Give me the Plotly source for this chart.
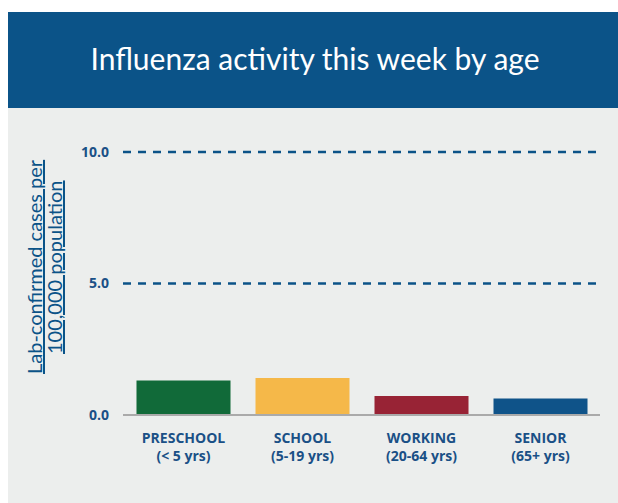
import plotly.graph_objects as go

categories = ["PRESCHOOL<br>(< 5 yrs)", "SCHOOL<br>(5-19 yrs)", "WORKING<br>(20-64 yrs)", "SENIOR<br>(65+ yrs)"]
values = [1.31, 1.40, 0.72, 0.62]
bar_colors = ["#116a39", "#f5b849", "#982335", "#0f5389"]
y_tickvals = [0, 5, 10]
y_ticktext = ["0.0", "5.0", "10.0"]

W, H = 618, 503
L, R, T, B = 124, W - 600, 147, H - 417
pw, ph = W - L - R, H - T - B

def px(x):
    return (x - L) / pw

def py(y):
    return (H - B - y) / ph

DARK = "#0b5388"
GREY = "#eceeed"

fig = go.Figure()
fig.add_trace(go.Bar(
    x=categories, y=values, marker=dict(color=bar_colors, line=dict(width=0)),
    hoverinfo="skip",
))

shapes = [
    dict(type="rect", xref="paper", yref="paper", x0=px(8), x1=px(640), y0=py(108), y1=py(530),
         fillcolor=GREY, line=dict(width=0), layer="below"),
    dict(type="rect", xref="paper", yref="paper", x0=px(8), x1=px(640), y0=py(108), y1=py(12),
         fillcolor=DARK, line=dict(width=0), layer="below"),
]
for v in [5, 10]:
    shapes.append(dict(type="line", xref="paper", yref="y", x0=px(123), x1=px(597), y0=v, y1=v,
                       line=dict(color=DARK, width=2.6, dash="8px,7px"), layer="below"))
shapes.append(dict(type="line", xref="paper", yref="y", x0=px(123), x1=px(600), y0=0, y1=0,
                   line=dict(color="#aaaaaa", width=2), layer="above"))

fig.update_layout(
    width=W, height=H,
    margin=dict(l=L, r=R, t=T, b=B, pad=0),
    paper_bgcolor="white", plot_bgcolor="rgba(0,0,0,0)",
    showlegend=False, bargap=0.21,
    shapes=shapes,
    title=dict(text="Influenza activity this week by age", x=315 / W, xanchor="center",
               y=1 - 59 / H, yanchor="middle",
               font=dict(family="Lato", size=30, color="white", weight=400)),
    annotations=[
        dict(text="<u>Lab-confirmed cases per</u>",
             xref="paper", yref="paper", x=px(34), y=py(267), xanchor="center", yanchor="middle",
             textangle=-90, showarrow=False, font=dict(family="Lato", size=20, color=DARK)),
        dict(text="<u>100,000 population</u>",
             xref="paper", yref="paper", x=px(54), y=py(267), xanchor="center", yanchor="middle",
             textangle=-90, showarrow=False, font=dict(family="Lato", size=20, color=DARK)),
    ],
    xaxis=dict(showgrid=False, zeroline=False, showline=False, ticks="",
               tickfont=dict(family="Open Sans", size=14, color="#1a5086", weight="bold"),
               ticklabelstandoff=11, fixedrange=True),
    yaxis=dict(range=[-0.08, 10.19], showgrid=False, zeroline=False, showline=False, ticks="",
               tickvals=y_tickvals, ticktext=y_ticktext,
               tickfont=dict(family="Open Sans", size=14, color="#1a5086", weight="bold"),
               ticklabelstandoff=14, fixedrange=True),
)

fig.write_html(
    "out.html",
    config=dict(displayModeBar=False, staticPlot=True),
    post_script="document.body.style.margin='0';document.body.style.overflow='hidden';",
)
